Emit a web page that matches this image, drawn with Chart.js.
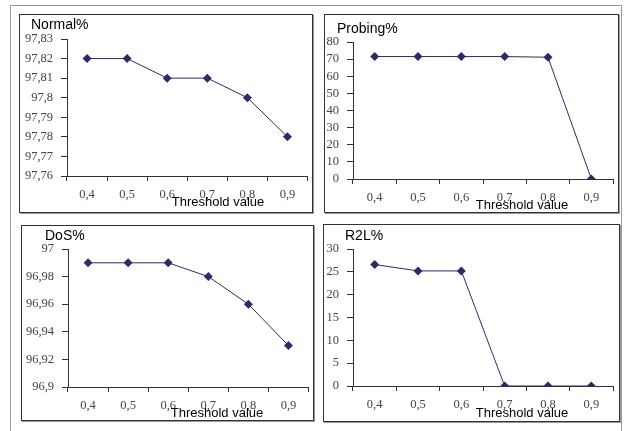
<!DOCTYPE html>
<html lang="en">
  <head>
    <meta charset="UTF-8" />
    <title>Threshold value charts</title>
    <script src="https://cdn.jsdelivr.net/npm/chart.js"></script>
    <style>
      body { margin: 0; background: #fff; }
      .page { position: relative; width: 624px; height: 431px; overflow: hidden; }
      .frame { position: absolute; left: 10px; top: 5px; width: 612px; height: 440px; border: 1px solid #999; box-sizing: border-box; }
      .panel { position: absolute; border: 1px solid #333; box-sizing: border-box; box-shadow: 1px 1px 0 #999; background: #fff; }
      .panel canvas { position: absolute; left: 0; top: 0; }
    </style>
  </head>
  <body>
    <div class="page">
      <div class="frame"></div>
      <div class="panel" id="p-normal"><canvas id="c-normal"></canvas></div>
      <div class="panel" id="p-probing"><canvas id="c-probing"></canvas></div>
      <div class="panel" id="p-dos"><canvas id="c-dos"></canvas></div>
      <div class="panel" id="p-r2l"><canvas id="c-r2l"></canvas></div>
    </div>

    <script>
      // data
      const thresholds = ["0,4", "0,5", "0,6", "0,7", "0,8", "0,9"];
      const normalPct = [97.82, 97.82, 97.81, 97.81, 97.8, 97.78];
      const probingPct = [71.5, 71.5, 71.5, 71.5, 71.1, 0];
      const dosPct = [96.99, 96.99, 96.99, 96.98, 96.96, 96.93];
      const r2lPct = [26.6, 25.2, 25.2, 0, 0, 0];

      const normalTicks = [97.76, 97.77, 97.78, 97.79, 97.8, 97.81, 97.82, 97.83];
      const probingTicks = [0, 10, 20, 30, 40, 50, 60, 70, 80];
      const dosTicks = [96.9, 96.92, 96.94, 96.96, 96.98, 97];
      const r2lTicks = [0, 5, 10, 15, 20, 25, 30];

      // layout of each panel (box: left, top, width, height; area: chart area inside the panel)
      const panels = [
        { key: "normal", title: "Normal%", values: normalPct, ticks: normalTicks,
          box: [19, 14, 294, 199], area: [47, 24, 289, 161], titleAt: [11, 10], xTitleAt: [198, 187] },
        { key: "probing", title: "Probing%", values: probingPct, ticks: probingTicks,
          box: [324, 14, 295, 199], area: [28, 27, 288, 164], titleAt: [12, 14], xTitleAt: [197, 190] },
        { key: "dos", title: "DoS%", values: dosPct, ticks: dosTicks,
          box: [21, 225, 293, 196], area: [46, 23, 289, 161], titleAt: [23, 10], xTitleAt: [195, 187] },
        { key: "r2l", title: "R2L%", values: r2lPct, ticks: r2lTicks,
          box: [323, 224, 297, 198], area: [29, 24, 289, 161], titleAt: [21, 11], xTitleAt: [198, 188] },
      ];

      const lineColor = "#2b2b6b";
      const axisColor = "#333";
      const tickFont = { family: "'Liberation Serif', 'Times New Roman', serif", size: 12.5 };
      const labelFont = "13px 'Liberation Sans', Arial, sans-serif";

      function fmt(v) {
        return Number(v.toFixed(2)).toString().replace(".", ",");
      }

      // draws the small title and the "Threshold value" caption
      const panelText = {
        id: "panelText",
        afterDraw(chart, args, opts) {
          const ctx = chart.ctx;
          ctx.save();
          ctx.fillStyle = "#000";
          ctx.textBaseline = "middle";
          ctx.font = "14px 'Liberation Sans', Arial, sans-serif";
          ctx.textAlign = "left";
          ctx.fillText(opts.title, opts.titleAt[0], opts.titleAt[1]);
          ctx.font = labelFont;
          ctx.textAlign = "center";
          ctx.fillText("Threshold value", opts.xTitleAt[0], opts.xTitleAt[1]);
          ctx.restore();
        },
      };

      panels.forEach((p) => {
        const div = document.getElementById("p-" + p.key);
        div.style.left = p.box[0] + "px";
        div.style.top = p.box[1] + "px";
        div.style.width = p.box[2] + "px";
        div.style.height = p.box[3] + "px";
        const w = p.box[2] - 2;
        const h = p.box[3] - 2;
        const canvas = document.getElementById("c-" + p.key);
        canvas.width = w;
        canvas.height = h;
        canvas.style.width = w + "px";
        canvas.style.height = h + "px";

        const [aL, aT, aR, aB] = p.area;

        new Chart(canvas, {
          type: "line",
          data: {
            labels: thresholds,
            datasets: [
              {
                data: p.values,
                borderColor: lineColor,
                backgroundColor: lineColor,
                borderWidth: 1,
                pointStyle: "rectRot",
                pointRadius: 4.5,
                pointBorderWidth: 0,
                pointBackgroundColor: lineColor,
                fill: false,
                tension: 0,
              },
            ],
          },
          options: {
            responsive: false,
            animation: false,
            devicePixelRatio: 1,
            layout: { padding: { left: 0, top: aT, right: w - aR, bottom: 0 } },
            plugins: {
              legend: { display: false },
              tooltip: { enabled: false },
              panelText: { title: p.title, titleAt: p.titleAt, xTitleAt: p.xTitleAt },
            },
            scales: {
              x: {
                type: "category",
                offset: true,
                grid: { offset: true, drawOnChartArea: false, drawTicks: true, tickLength: 5, color: axisColor },
                border: { display: true, color: axisColor, width: 1 },
                ticks: { color: "#444", font: tickFont, padding: 6, maxRotation: 0, autoSkip: false },
                afterFit: (s) => { s.height = h - aB; },
              },
              y: {
                min: p.ticks[0],
                max: p.ticks[p.ticks.length - 1],
                grid: { drawOnChartArea: false, drawTicks: true, tickLength: 6, color: axisColor },
                border: { display: true, color: axisColor, width: 1 },
                ticks: { color: "#444", font: tickFont, padding: 8, autoSkip: false, callback: (v) => fmt(v) },
                afterBuildTicks: (s) => { s.ticks = p.ticks.map((v) => ({ value: v })); },
                afterFit: (s) => { s.width = aL; },
              },
            },
          },
          plugins: [panelText],
        });
      });
    </script>
  </body>
</html>
